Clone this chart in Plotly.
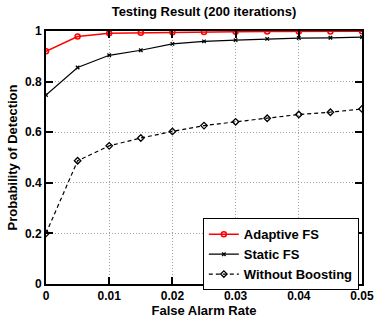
import plotly.graph_objects as go

far = [0, 0.005, 0.01, 0.015, 0.02, 0.025, 0.03, 0.035, 0.04, 0.045, 0.05]
adaptive_fs = [0.920, 0.978, 0.991, 0.993, 0.995, 0.996, 0.997, 0.998, 0.998, 0.998, 0.999]
static_fs = [0.747, 0.856, 0.904, 0.924, 0.949, 0.959, 0.964, 0.969, 0.972, 0.973, 0.976]
without_boosting = [0.200, 0.487, 0.546, 0.577, 0.603, 0.626, 0.641, 0.655, 0.670, 0.679, 0.692]

x_ticks = [0, 0.01, 0.02, 0.03, 0.04, 0.05]
x_labels = ["0", "0.01", "0.02", "0.03", "0.04", "0.05"]
y_ticks = [0, 0.2, 0.4, 0.6, 0.8, 1]
y_labels = ["0", "0.2", "0.4", "0.6", "0.8", "1"]

FONT = "Liberation Sans, Arial, sans-serif"

fig = go.Figure()
fig.add_trace(go.Scatter(
    x=far, y=adaptive_fs, name="Adaptive FS", mode="lines+markers",
    line=dict(color="red", width=1.5),
    marker=dict(symbol="circle-open", size=5, color="red", line=dict(width=1.5)),
))
fig.add_trace(go.Scatter(
    x=far, y=static_fs, name="Static FS", mode="lines+markers",
    line=dict(color="black", width=1.2),
    marker=dict(symbol="x-thin", size=3.5, color="black", line=dict(width=1.3, color="black")),
))
fig.add_trace(go.Scatter(
    x=far, y=without_boosting, name="Without Boosting", mode="lines+markers",
    line=dict(color="black", width=1.2, dash="4px,3px"),
    marker=dict(symbol="diamond-open", size=5, color="black", line=dict(width=1.3)),
))

axis_common = dict(
    showline=True, linecolor="black", linewidth=2, mirror="ticks",
    ticks="inside", ticklen=7, tickwidth=1.5, tickcolor="black",
    showgrid=True, gridcolor="#a0a0a0", griddash="1px,2px", gridwidth=1,
    zeroline=False,
    tickfont=dict(family=FONT, size=12, color="black", weight="bold"),
)

fig.update_layout(
    width=386, height=327,
    margin=dict(l=45, r=12, t=31, b=36),
    paper_bgcolor="white", plot_bgcolor="white",
    title=dict(text="Testing Result (200 iterations)", x=0.5, xref="paper", xanchor="center",
               y=1, yref="container", yanchor="top", pad=dict(t=7),
               font=dict(family=FONT, size=13, color="black", weight="bold")),
    xaxis=dict(range=[0, 0.05], tickvals=x_ticks, ticktext=x_labels,
               title=dict(text="False Alarm Rate", standoff=2,
                          font=dict(family=FONT, size=13, color="black", weight="bold")),
               **axis_common),
    yaxis=dict(range=[0, 1], tickvals=y_ticks, ticktext=y_labels,
               title=dict(text="Probability of Detection", standoff=4,
                          font=dict(family=FONT, size=13, color="black", weight="bold")),
               **axis_common),
    legend=dict(x=0.99, y=-0.025, xanchor="right", yanchor="bottom",
                bgcolor="white", bordercolor="black", borderwidth=1,
                font=dict(family=FONT, size=13, color="black", weight="bold"),
                tracegroupgap=0, itemwidth=30),
    showlegend=True,
)

fig.write_html("out.html")
